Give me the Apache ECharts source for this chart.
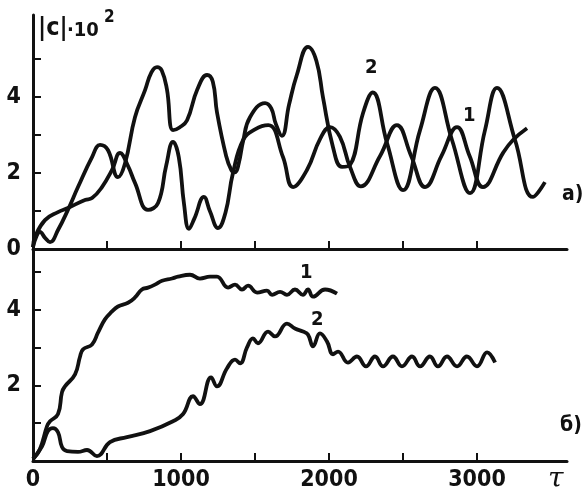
<!DOCTYPE html>
<html>
<head>
<meta charset="utf-8">
<script src="https://cdn.jsdelivr.net/npm/echarts@6/dist/echarts.min.js"></script>
</head>
<body style="margin:0;background:#fff">
<div id="main" style="width:582px;height:492px"></div>
<script>
// panel a): |c| x 10^2 against tau
var topCurve1 = [[0,0.05],[14,0.32],[81,0.76],[169,0.97],[236,1.08],[351,1.29],[399,1.34],[466,1.63],[534,2.08],[588,2.53],[640,2.2],[689,1.74],[777,1.03],[845,1.21],[900,2.2],[946,2.82],[985,2.42],[1020,1.2],[1054,0.53],[1090,0.8],[1155,1.37],[1195,1.0],[1250,0.55],[1300,0.95],[1351,2.0],[1420,2.87],[1500,3.15],[1590,3.26],[1689,2.42],[1757,1.63],[1851,2.08],[1940,2.9],[2007,3.21],[2074,2.95],[2142,2.16],[2215,1.65],[2345,2.45],[2459,3.26],[2555,2.45],[2649,1.63],[2760,2.45],[2865,3.21],[2950,2.45],[3040,1.63],[3176,2.53],[3243,2.87],[3338,3.18]];
var topCurve2 = [[0,0.05],[25,0.35],[47,0.45],[80,0.3],[115,0.18],[169,0.5],[236,1.03],[304,1.63],[399,2.42],[453,2.74],[507,2.6],[574,1.89],[622,2.26],[689,3.47],[757,4.18],[800,4.65],[838,4.79],[870,4.7],[905,4.2],[946,3.13],[990,3.2],[1041,3.39],[1110,4.2],[1176,4.58],[1215,4.4],[1243,3.6],[1305,2.45],[1340,2.08],[1365,2.02],[1390,2.25],[1420,2.85],[1466,3.47],[1568,3.84],[1610,3.7],[1640,3.3],[1682,2.98],[1730,3.8],[1784,4.6],[1858,5.32],[1915,4.95],[1959,4.0],[2027,2.68],[2088,2.16],[2142,2.21],[2230,3.58],[2295,4.12],[2392,2.79],[2500,1.55],[2615,3.13],[2716,4.24],[2831,2.87],[2953,1.47],[3054,3.13],[3135,4.24],[3257,2.87],[3378,1.37],[3459,1.76]];
// panel б)
var botCurve1 = [[0,0.05],[47,0.32],[95,0.92],[115,1.05],[169,1.24],[196,1.82],[216,1.97],[284,2.29],[318,2.76],[338,2.95],[399,3.08],[439,3.39],[486,3.74],[534,3.95],[574,4.08],[642,4.18],[689,4.32],[736,4.53],[777,4.58],[824,4.66],[872,4.76],[939,4.82],[980,4.87],[1061,4.92],[1128,4.82],[1196,4.87],[1243,4.87],[1318,4.58],[1365,4.66],[1412,4.53],[1453,4.63],[1514,4.45],[1581,4.5],[1615,4.39],[1669,4.47],[1716,4.39],[1770,4.53],[1824,4.39],[1858,4.53],[1892,4.34],[1973,4.53],[2054,4.42]];
var botCurve2 = [[0,0.05],[61,0.39],[101,0.79],[135,0.87],[169,0.76],[196,0.37],[230,0.26],[304,0.24],[365,0.29],[432,0.13],[520,0.5],[635,0.63],[791,0.79],[946,1.05],[1014,1.24],[1081,1.71],[1128,1.5],[1203,2.21],[1243,1.97],[1311,2.45],[1365,2.68],[1399,2.58],[1446,3.0],[1486,3.24],[1520,3.11],[1588,3.42],[1635,3.29],[1716,3.63],[1770,3.5],[1824,3.42],[1858,3.34],[1892,3.03],[1939,3.37],[1986,3.16],[2027,2.82],[2061,2.89],[2128,2.6],[2189,2.76],[2250,2.5],[2311,2.76],[2365,2.5],[2432,2.76],[2493,2.5],[2561,2.76],[2615,2.5],[2682,2.76],[2736,2.5],[2797,2.76],[2865,2.5],[2932,2.76],[3000,2.5],[3068,2.87],[3122,2.6]];

var xTicks = [500, 1000, 1500, 2000, 2500, 3000];
var xLabels = [0, 1000, 2000, 3000];
var yTicksTop = [0, 1, 2, 3, 4, 5];
var yLabelsTop = [0, 2, 4];
var yTicksBot = [1, 2, 3, 4, 5];
var yLabelsBot = [2, 4];

var numFont = '"Liberation Sans Narrow", "DejaVu Sans Condensed", "Liberation Sans", sans-serif';
var ink = '#111';

function xAxis(grid, showLabels) {
  return {
    type: 'value', gridIndex: grid, min: 0, max: 3608,
    axisLine: { lineStyle: { color: ink, width: 3 } },
    axisTick: { inside: true, length: 8, lineStyle: { color: ink, width: 2 }, customValues: xTicks },
    axisLabel: { show: showLabels, customValues: xLabels, color: ink, fontFamily: numFont,
      fontWeight: 'bold', fontSize: 23, margin: 8,
      formatter: function (v) { return String(v); } },
    splitLine: { show: false }
  };
}
function yAxis(grid, max, ticks, labels) {
  return {
    type: 'value', gridIndex: grid, min: 0, max: max,
    axisLine: { show: true, lineStyle: { color: ink, width: 3 } },
    axisTick: { show: true, inside: true, length: 8, lineStyle: { color: ink, width: 2 }, customValues: ticks },
    axisLabel: { customValues: labels, color: ink, fontFamily: numFont, fontWeight: 'bold',
      fontSize: 23, margin: 12 },
    splitLine: { show: false }
  };
}
function curve(data, x, y) {
  return {
    type: 'line', xAxisIndex: x, yAxisIndex: y, data: data, smooth: 0.45,
    showSymbol: false, lineStyle: { color: ink, width: 3.8 }, silent: true
  };
}

var chart = echarts.init(document.getElementById('main'));
chart.setOption({
  animation: false,
  backgroundColor: '#fff',
  grid: [
    { left: 33, right: 15, top: 15, height: 234 },
    { left: 33, right: 15, top: 249, height: 213 }
  ],
  xAxis: [xAxis(0, false), xAxis(1, true)],
  yAxis: [yAxis(0, 6.16, yTicksTop, yLabelsTop), yAxis(1, 5.6, yTicksBot, yLabelsBot)],
  series: [
    curve(topCurve1, 0, 0), curve(topCurve2, 0, 0),
    curve(botCurve1, 1, 1), curve(botCurve2, 1, 1)
  ],
  graphic: [
    { type: 'text', left: 38, top: 16, style: { text: '|c|', font: 'bold 25px ' + numFont, fill: ink } },
    { type: 'text', left: 67, top: 21, style: { text: '·10', font: 'bold 20px ' + numFont, fill: ink } },
    { type: 'text', left: 104, top: 9, style: { text: '2', font: 'bold 17px ' + numFont, fill: ink } },
    { type: 'text', left: 365, top: 58, style: { text: '2', font: 'bold 20px ' + numFont, fill: ink } },
    { type: 'text', left: 463, top: 106, style: { text: '1', font: 'bold 20px ' + numFont, fill: ink } },
    { type: 'text', left: 562, top: 184, style: { text: 'а)', font: 'bold 21px ' + numFont, fill: ink } },
    { type: 'text', left: 300, top: 263, style: { text: '1', font: 'bold 20px ' + numFont, fill: ink } },
    { type: 'text', left: 311, top: 310, style: { text: '2', font: 'bold 20px ' + numFont, fill: ink } },
    { type: 'text', left: 560, top: 415, style: { text: 'б)', font: 'bold 21px ' + numFont, fill: ink } },
    { type: 'text', left: 548, top: 466, style: { text: 'τ', font: 'italic 28px "DejaVu Serif", serif', fill: ink } }
  ]
});
</script>
</body>
</html>
